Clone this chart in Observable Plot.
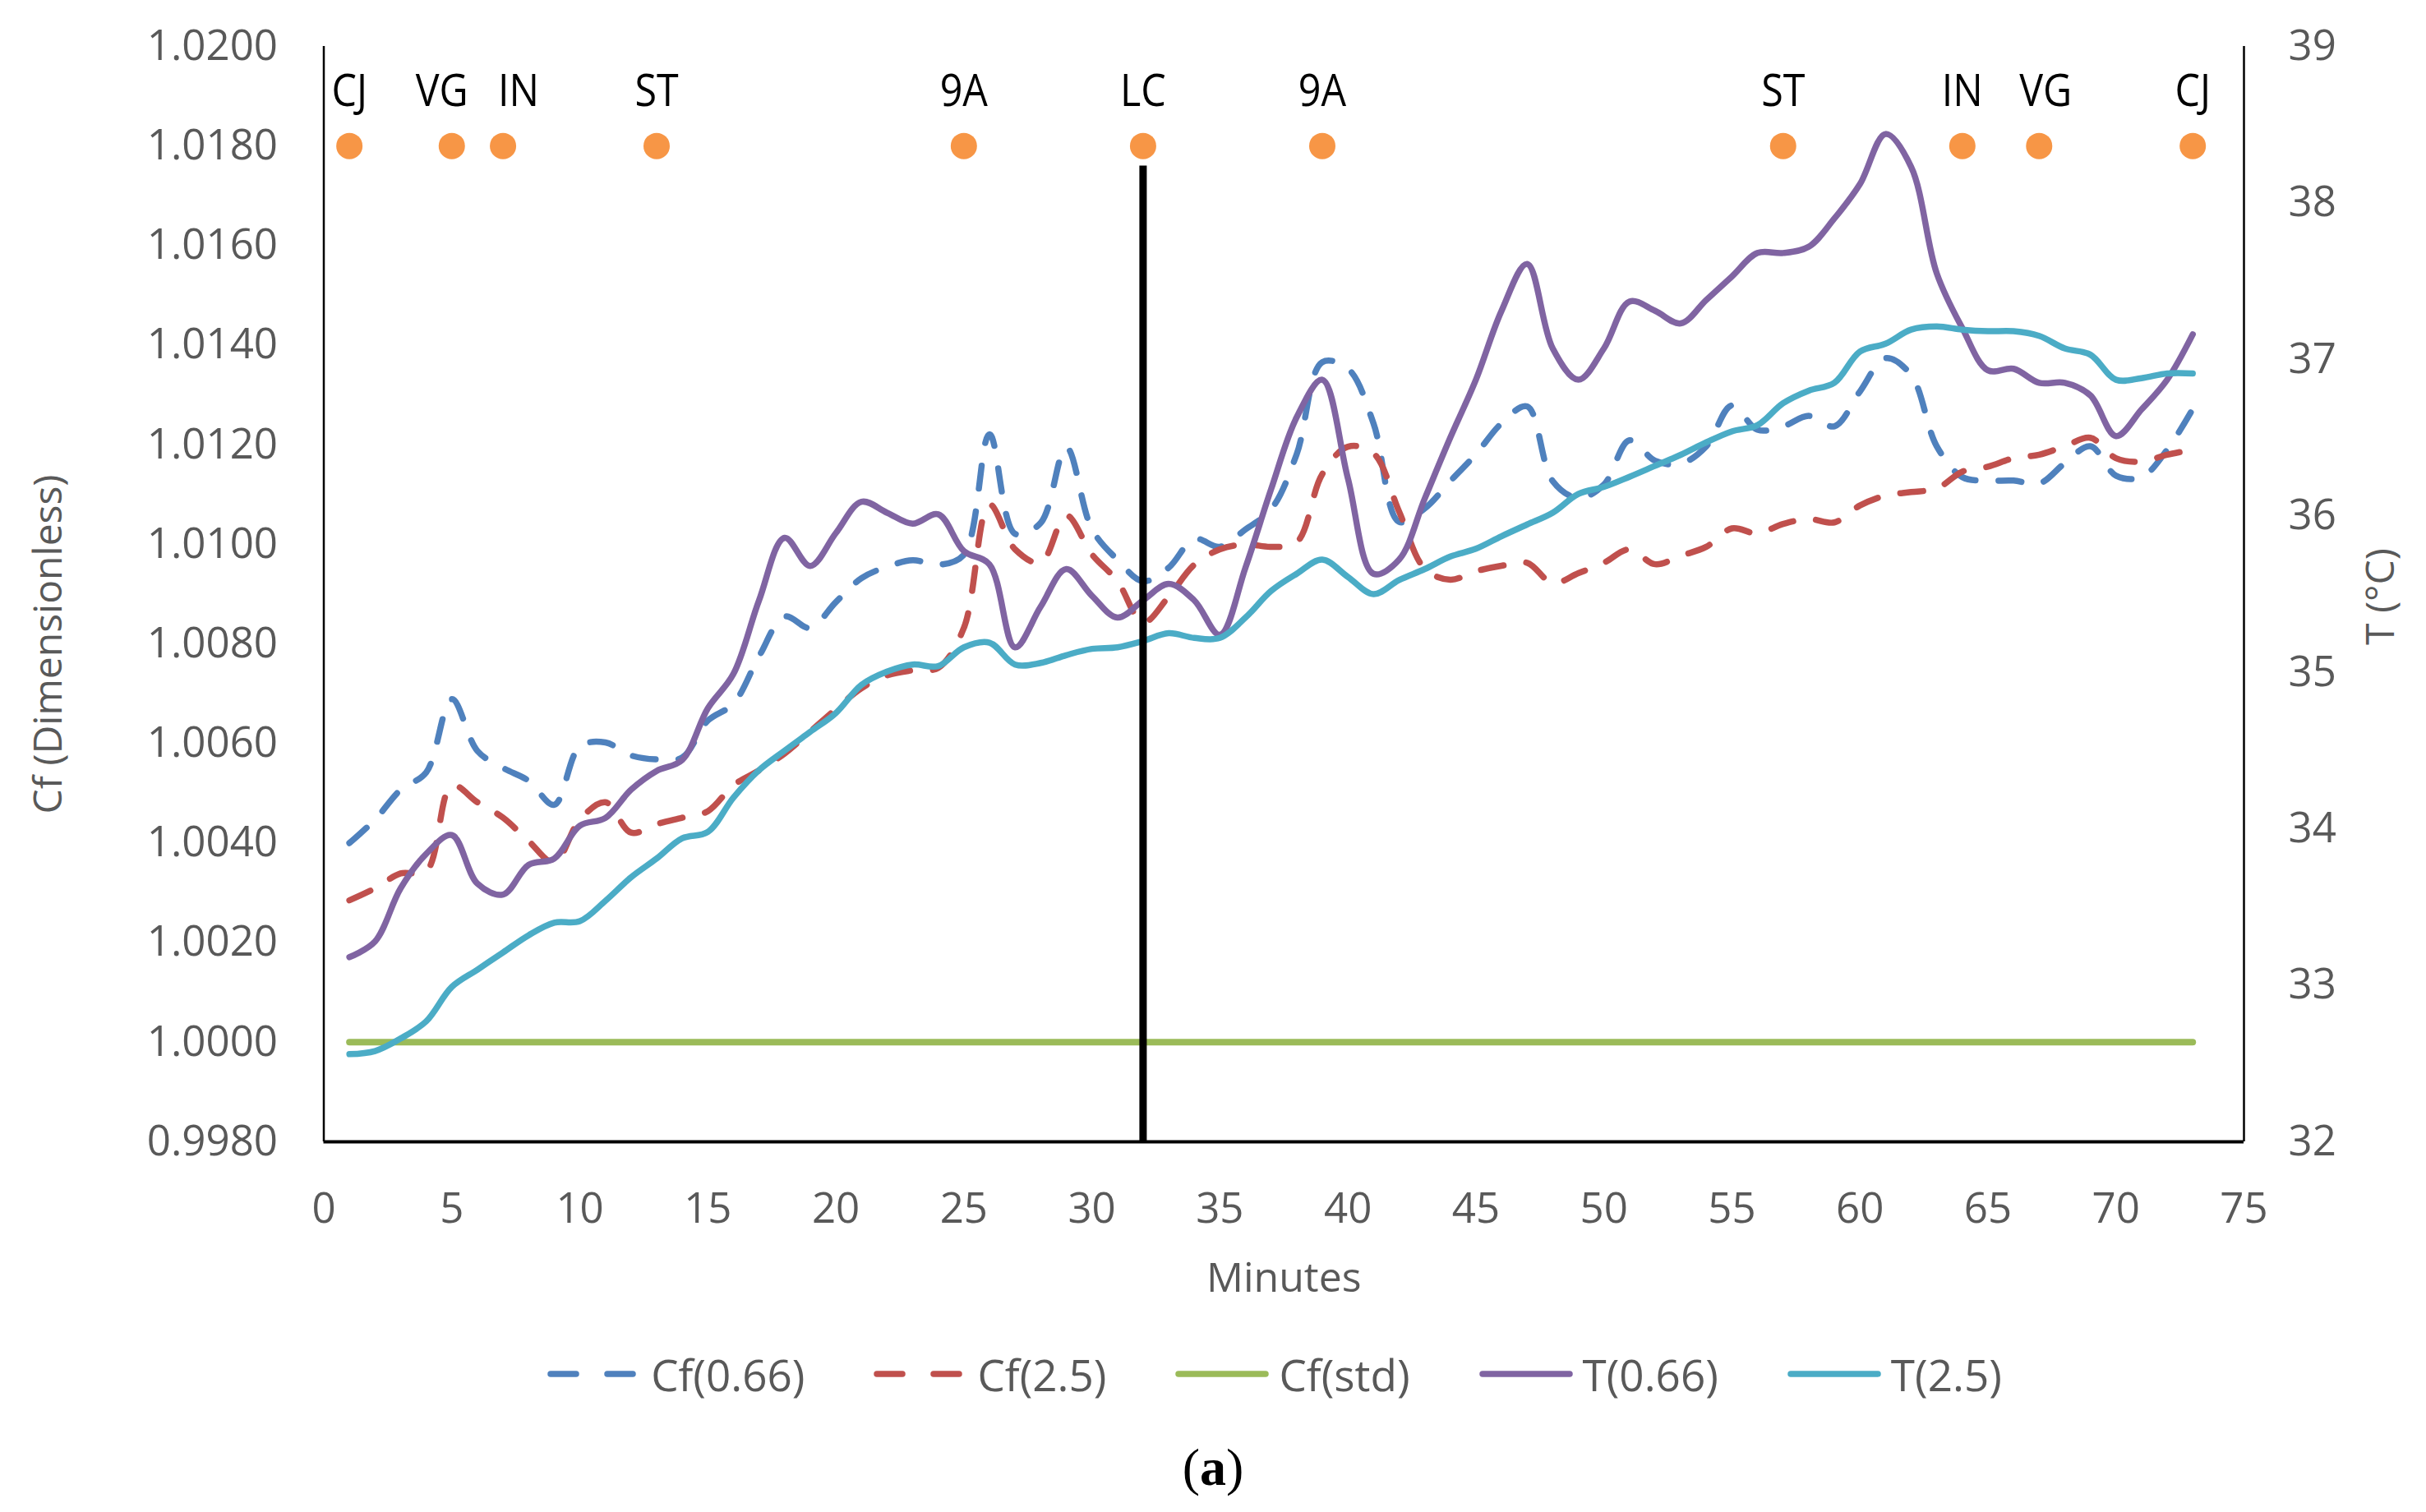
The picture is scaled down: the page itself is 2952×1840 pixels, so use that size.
<!DOCTYPE html>
<html>
<head>
<meta charset="utf-8">
<script src="https://cdn.jsdelivr.net/npm/d3@7"></script>
<script src="https://cdn.jsdelivr.net/npm/@observablehq/plot@0.6"></script>
<style>
html, body { margin: 0; padding: 0; background: #fff; }
#wrap { position: relative; width: 2952px; height: 1840px; font-family: "Open Sans", sans-serif; }
#chart svg { display: block; }
#legend { position: absolute; left: 160px; width: 2782px; top: 1638px; height: 68px; display: flex; justify-content: center; align-items: center; gap: 84px; font-size: 53px; color: #595959; }
.item { display: flex; align-items: center; }
.item svg { margin-right: 12px; display: block; }
#caption { position: absolute; left: 0; width: 2952px; top: 1748px; line-height: 76px; text-align: center; font-family: "Liberation Serif", serif; font-size: 64px; color: #000; }
</style>
</head>
<body>
<div id="wrap">
  <div id="chart"></div>
  <div id="legend"></div>
  <div id="caption">(<b>a</b>)</div>
</div>
<script>
// ---------- data ----------
const minutes = d3.range(1, 74);

const cf066 = [1.0040, 1.00447, 1.00507, 1.00542, 1.00689, 1.00585, 1.00551, 1.00525, 1.00477, 1.00594,
  1.00602, 1.00576, 1.00568, 1.00572, 1.00646, 1.0068, 1.00775, 1.00855, 1.00832, 1.00884,
  1.00932, 1.00955, 1.00968, 1.00959, 1.00979, 1.01221, 1.01021, 1.01043, 1.01195, 1.01031,
  1.00969, 1.00926, 1.00953, 1.01011, 1.00995, 1.0103, 1.0107, 1.01181, 1.01366, 1.01353,
  1.01243, 1.01045, 1.01072, 1.01127, 1.01181, 1.01243, 1.01277, 1.01127, 1.01093, 1.0112,
  1.01209, 1.01168, 1.01162, 1.01197, 1.01279, 1.0123, 1.01237, 1.01258, 1.01237, 1.01307,
  1.01374, 1.0134, 1.01197, 1.01135, 1.01128, 1.01128, 1.01122, 1.01163, 1.01197, 1.01138,
  1.01135, 1.0119, 1.01272];

const cf25 = [1.00285, 1.00309, 1.00339, 1.00343, 1.00516, 1.00482, 1.00451, 1.00404, 1.00361, 1.00447,
  1.00482, 1.00421, 1.00438, 1.00451, 1.00464, 1.00516, 1.00546, 1.0058, 1.00624, 1.00669,
  1.00711, 1.00737, 1.00747, 1.00752, 1.00832, 1.0108, 1.0099, 1.00963, 1.01058, 1.0098,
  1.00926, 1.00843, 1.00895, 1.00959, 1.0099, 1.0100, 1.00995, 1.01004, 1.01141, 1.01196,
  1.01183, 1.01066, 1.00951, 1.00929, 1.00946, 1.00957, 1.00963, 1.00922, 1.00942, 1.00963,
  1.0099, 1.0096, 1.00977, 1.00995, 1.01032, 1.01022, 1.01041, 1.01051, 1.01044, 1.01078,
  1.01098, 1.01105, 1.01112, 1.01146, 1.01156, 1.01173, 1.0118, 1.01197, 1.01214, 1.01173,
  1.01166, 1.0118, 1.0119];

const cfStd = [1, 1, 1, 1, 1, 1, 1, 1, 1, 1, 1, 1, 1, 1, 1, 1, 1, 1, 1, 1,
  1, 1, 1, 1, 1, 1, 1, 1, 1, 1, 1, 1, 1, 1, 1, 1, 1, 1, 1, 1,
  1, 1, 1, 1, 1, 1, 1, 1, 1, 1, 1, 1, 1, 1, 1, 1, 1, 1, 1, 1,
  1, 1, 1, 1, 1, 1, 1, 1, 1, 1, 1, 1, 1];

const t066 = [33.18, 33.28, 33.62, 33.84, 33.96, 33.65, 33.58, 33.77, 33.81, 34.02,
  34.07, 34.25, 34.37, 34.44, 34.77, 34.99, 35.46, 35.86, 35.68, 35.89,
  36.09, 36.02, 35.95, 36.01, 35.775, 35.69, 35.16, 35.42, 35.66, 35.49,
  35.35, 35.46, 35.565, 35.46, 35.24, 35.67, 36.17, 36.63, 36.87, 36.24,
  35.63, 35.72, 36.11, 36.50, 36.87, 37.31, 37.61, 37.07, 36.87, 37.07,
  37.37, 37.31, 37.23, 37.38, 37.53, 37.68, 37.68, 37.72, 37.90, 38.12,
  38.44, 38.23, 37.55, 37.20, 36.93, 36.94, 36.85, 36.85, 36.77, 36.51,
  36.68, 36.87, 37.16];

const t25 = [32.56, 32.58, 32.66, 32.77, 32.99, 33.10, 33.21, 33.32, 33.40, 33.41,
  33.54, 33.69, 33.81, 33.94, 33.98, 34.20, 34.375, 34.50, 34.62, 34.74,
  34.92, 35.005, 35.05, 35.04, 35.16, 35.19, 35.05, 35.06, 35.11, 35.15,
  35.16, 35.20, 35.25, 35.22, 35.22, 35.35, 35.52, 35.63, 35.72, 35.61,
  35.50, 35.59, 35.66, 35.74, 35.79, 35.87, 35.945, 36.02, 36.14, 36.185,
  36.25, 36.32, 36.39, 36.47, 36.54, 36.58, 36.72, 36.80, 36.85, 37.05,
  37.10, 37.19, 37.21, 37.19, 37.18, 37.18, 37.15, 37.07, 37.03, 36.87,
  36.88, 36.91, 36.91];

const eventMinutes = [1, 5, 7, 13, 25, 32, 39, 57, 64, 67, 73];
const eventLabels = ["CJ", "VG", "IN", "ST", "9A", "LC", "9A", "ST", "IN", "VG", "CJ"];
const eventLevel = 1.0180;
const lcMinute = 32;
const lcTop = 1.0176;

const xTicks = [0, 5, 10, 15, 20, 25, 30, 35, 40, 45, 50, 55, 60, 65, 70, 75];
const cfTicks = [0.998, 1.000, 1.002, 1.004, 1.006, 1.008, 1.010, 1.012, 1.014, 1.016, 1.018, 1.020];
const tTicks = [32, 33, 34, 35, 36, 37, 38, 39];
const xDomain = [0, 75];
const cfDomain = [0.998, 1.020];
const tDomain = [32, 39];

const seriesNames = ["Cf(0.66)", "Cf(2.5)", "Cf(std)", "T(0.66)", "T(2.5)"];
const seriesColors = ["#4F81BD", "#C0504D", "#9BBB59", "#8064A2", "#4BACC6"];
const seriesDashed = [true, true, false, false, false];

// ---------- helpers ----------
const tToCf = t => cfDomain[0] + (t - tDomain[0]) * (cfDomain[1] - cfDomain[0]) / (tDomain[1] - tDomain[0]);
const cfToT = v => tDomain[0] + (v - cfDomain[0]) * (tDomain[1] - tDomain[0]) / (cfDomain[1] - cfDomain[0]);

const rowsOf = (vals, conv) => minutes.map((m, i) => ({minute: m, y: conv ? conv(vals[i]) : vals[i]}));
const events = eventMinutes.map((m, i) => ({minute: m, label: eventLabels[i], level: eventLevel}));

const dash = "28,28";
const lineBase = {x: "minute", y: "y", curve: "catmull-rom", strokeWidth: 7.5, strokeLinecap: "round", strokeLinejoin: "round"};

const chart = Plot.plot({
  width: 2952,
  height: 1600,
  marginLeft: 393.5,
  marginRight: 222,
  marginTop: 56,
  marginBottom: 211,
  x: {domain: xDomain},
  y: {domain: cfDomain},
  style: {fontFamily: "'Open Sans', sans-serif", fontSize: "51px", color: "#595959", background: "#fff"},
  marks: [
    Plot.axisY({ticks: cfTicks, tickSize: 0, tickPadding: 56, tickFormat: d3.format(".4f"), label: null}),
    Plot.axisY({anchor: "right", ticks: tTicks.map(tToCf), tickSize: 0, tickPadding: 54,
      tickFormat: v => String(Math.round(cfToT(v))), label: null}),
    Plot.axisX({ticks: xTicks, tickSize: 0, tickPadding: 62, tickFormat: d => String(d), label: null}),
    Plot.ruleX([xDomain[0]], {stroke: "#000", strokeWidth: 2.5}),
    Plot.ruleX([xDomain[1]], {stroke: "#000", strokeWidth: 2.5}),
    Plot.ruleY([cfDomain[0]], {stroke: "#000", strokeWidth: 4}),
    Plot.line(rowsOf(cf066), {...lineBase, stroke: seriesColors[0], strokeDasharray: dash}),
    Plot.line(rowsOf(cf25), {...lineBase, stroke: seriesColors[1], strokeDasharray: dash}),
    Plot.line(rowsOf(cfStd), {...lineBase, stroke: seriesColors[2], strokeWidth: 8}),
    Plot.line(rowsOf(t066, tToCf), {...lineBase, stroke: seriesColors[3]}),
    Plot.line(rowsOf(t25, tToCf), {...lineBase, stroke: seriesColors[4]}),
    Plot.ruleX([lcMinute], {y1: cfDomain[0], y2: lcTop, stroke: "#000", strokeWidth: 9}),
    Plot.dot(events, {x: "minute", y: "level", r: 16, fill: "#F79646", stroke: "none"}),
    Plot.text(events, {x: "minute", y: "level", text: "label", dy: -66, fill: "#000", fontSize: 55}),
    Plot.text(["Cf (Dimensionless)"], {frameAnchor: "left", rotate: -90, dx: -334.5, dy: 61,
      fill: "#595959", fontSize: 48, textAnchor: "middle", lineAnchor: "middle"}),
    Plot.text(["T (°C)"], {frameAnchor: "right", rotate: -90, dx: 167, dy: 3,
      fill: "#595959", fontSize: 48, textAnchor: "middle", lineAnchor: "middle"}),
    Plot.text(["Minutes"], {frameAnchor: "bottom", dy: 166, fill: "#595959", fontSize: 50,
      textAnchor: "middle", lineAnchor: "middle"})
  ]
});
document.getElementById("chart").appendChild(chart);

// event labels: condense the glyphs a little (the reference uses a narrow face)
// and nudge the crowded left VG / IN pair apart, as placed in the reference
const labelSet = new Set(eventLabels);
const nudge = {1: -12, 2: 19, 9: 8};
d3.select(chart).selectAll('g[aria-label="text"] text')
  .filter(function () { return labelSet.has(this.textContent) && this.closest('g[font-size="55"]'); })
  .each(function (d, i) {
    const w = this.getComputedTextLength();
    this.setAttribute("textLength", (w * 0.88).toFixed(1));
    this.setAttribute("lengthAdjust", "spacingAndGlyphs");
    if (nudge[i]) this.setAttribute("dx", nudge[i]);
  });

// ---------- legend ----------
const legend = d3.select("#legend");
seriesNames.forEach((name, i) => {
  const item = legend.append("div").attr("class", "item");
  const sw = item.append("svg").attr("width", 114).attr("height", 20);
  sw.append("line")
    .attr("x1", 4).attr("x2", 110).attr("y1", 10).attr("y2", 10)
    .attr("stroke", seriesColors[i]).attr("stroke-width", 7.5)
    .attr("stroke-linecap", "round")
    .attr("stroke-dasharray", seriesDashed[i] ? "31,38" : null);
  item.append("span").text(name);
});
</script>
</body>
</html>
